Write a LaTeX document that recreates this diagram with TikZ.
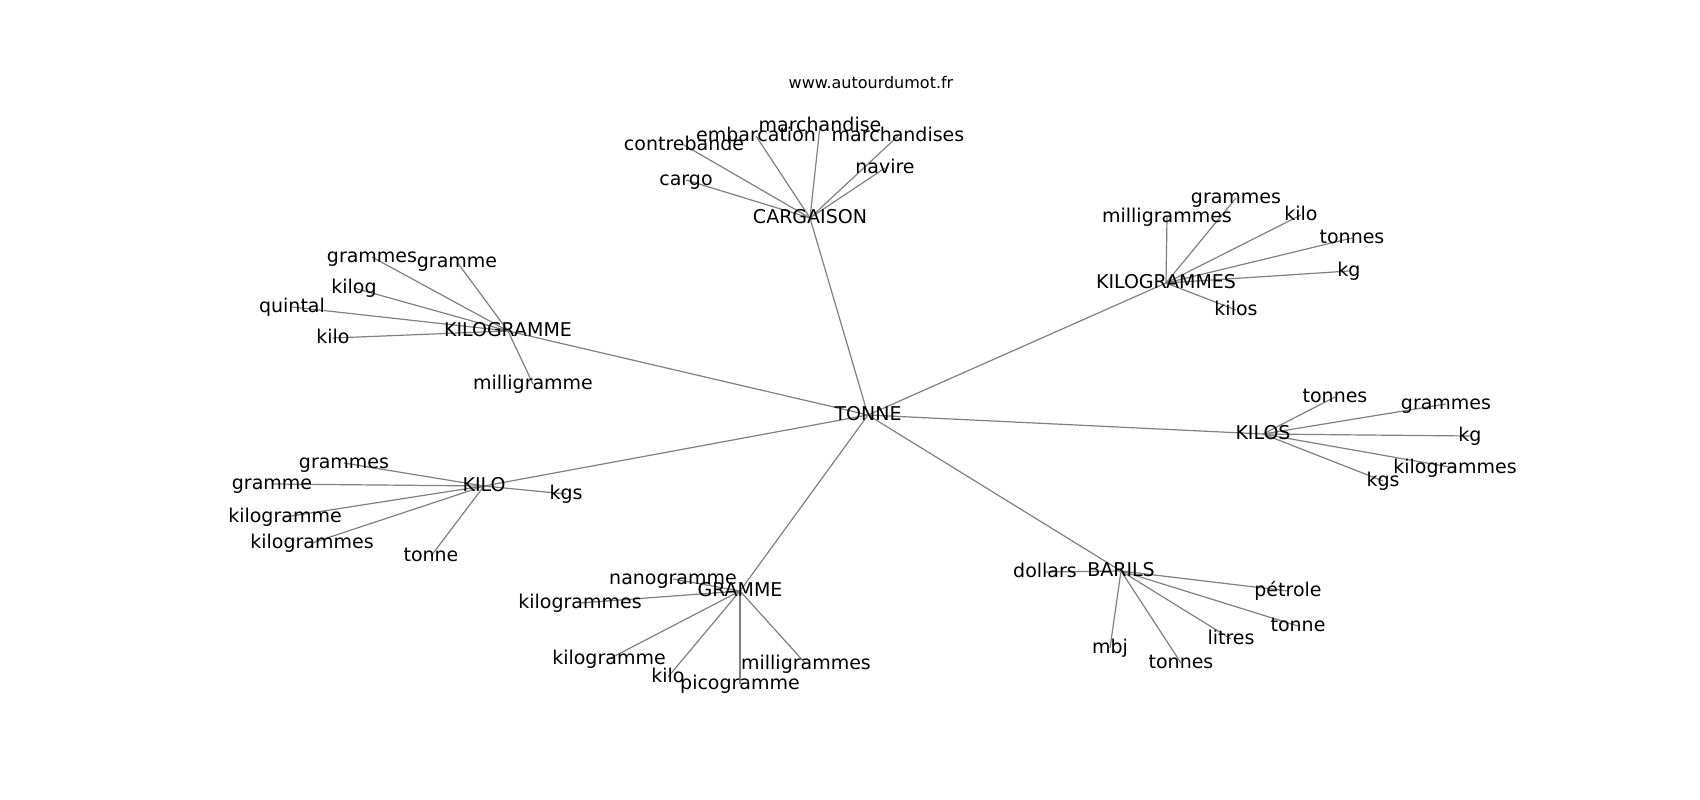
\documentclass[tikz,border=0pt]{standalone}
\usepackage{fontspec}
\setmainfont{DejaVu Sans}
\usetikzlibrary{backgrounds}
\definecolor{edgegray}{RGB}{128,128,128}
\tikzset{
  lbl/.style={font=\fontsize{19}{19}\selectfont, inner sep=0pt, text height=14.4pt, text depth=4pt, anchor=center},
  ttl/.style={font=\fontsize{16}{16}\selectfont, inner sep=0pt, anchor=center},
  edge/.style={draw=edgegray, line width=1.2pt}
}
\begin{document}
\begin{tikzpicture}[x=1pt,y=-1pt]
\useasboundingbox (0,0) rectangle (1700,800);
\node[ttl] (title) at (871,83) {www.autourdumot.fr};
% hubs
\node[lbl] (tonne) at (868,415) {TONNE};
\node[lbl] (cargaison) at (810,218) {CARGAISON};
\node[lbl] (kgs1) at (1166,283) {KILOGRAMMES};
\node[lbl] (kg1) at (508,331) {KILOGRAMME};
\node[lbl] (kilos) at (1263,434) {KILOS};
\node[lbl] (kilo) at (484,486) {KILO};
\node[lbl] (gramme) at (740,591) {GRAMME};
\node[lbl] (barils) at (1121,571) {BARILS};
% CARGAISON leaves
\node[lbl] (c1) at (686,180) {cargo};
\node[lbl] (c2) at (684,145) {contrebande};
\node[lbl] (c3) at (756,136) {embarcation};
\node[lbl] (c4) at (820,126) {marchandise};
\node[lbl] (c5) at (898,136) {marchandises};
\node[lbl] (c6) at (885,168) {navire};
% KILOGRAMMES leaves
\node[lbl] (a1) at (1236,198) {grammes};
\node[lbl] (a2) at (1167,217) {milligrammes};
\node[lbl] (a3) at (1301,215) {kilo};
\node[lbl] (a4) at (1352,238) {tonnes};
\node[lbl] (a5) at (1349,271) {kg};
\node[lbl] (a6) at (1236,310) {kilos};
% KILOGRAMME leaves
\node[lbl] (b1) at (372,257) {grammes};
\node[lbl] (b2) at (457,262) {gramme};
\node[lbl] (b3) at (354,288) {kilog};
\node[lbl] (b4) at (292,307) {quintal};
\node[lbl] (b5) at (333,338) {kilo};
\node[lbl] (b6) at (533,384) {milligramme};
% KILO leaves
\node[lbl] (d1) at (344,463) {grammes};
\node[lbl] (d2) at (272,484) {gramme};
\node[lbl] (d3) at (285,517) {kilogramme};
\node[lbl] (d4) at (312,543) {kilogrammes};
\node[lbl] (d5) at (431,556) {tonne};
\node[lbl] (d6) at (566,494) {kgs};
% GRAMME leaves
\node[lbl] (e1) at (673,579) {nanogramme};
\node[lbl] (e2) at (580,603) {kilogrammes};
\node[lbl] (e3) at (609,659) {kilogramme};
\node[lbl] (e4) at (668,677) {kilo};
\node[lbl] (e5) at (740,684) {picogramme};
\node[lbl] (e6) at (806,664) {milligrammes};
% BARILS leaves
\node[lbl] (f1) at (1045,572) {dollars};
\node[lbl] (f2) at (1288,591) {pétrole};
\node[lbl] (f3) at (1298,626) {tonne};
\node[lbl] (f4) at (1231,639) {litres};
\node[lbl] (f5) at (1181,663) {tonnes};
\node[lbl] (f6) at (1110,648) {mbj};
% KILOS leaves
\node[lbl] (g1) at (1335,397) {tonnes};
\node[lbl] (g2) at (1446,404) {grammes};
\node[lbl] (g3) at (1470,436) {kg};
\node[lbl] (g4) at (1455,468) {kilogrammes};
\node[lbl] (g5) at (1383,481) {kgs};
\begin{pgfonlayer}{background}
\fill[white] (0,0) rectangle (1700,800);
\foreach \h in {cargaison,kgs1,kg1,kilos,kilo,gramme,barils}
  \draw[edge] (tonne.center) -- (\h.center);
\foreach \l in {c1,c2,c3,c4,c5,c6}
  \draw[edge] (cargaison.center) -- (\l.center);
\foreach \l in {a1,a2,a3,a4,a5,a6}
  \draw[edge] (kgs1.center) -- (\l.center);
\foreach \l in {b1,b2,b3,b4,b5,b6}
  \draw[edge] (kg1.center) -- (\l.center);
\foreach \l in {d1,d2,d3,d4,d5,d6}
  \draw[edge] (kilo.center) -- (\l.center);
\foreach \l in {e1,e2,e3,e4,e5,e6}
  \draw[edge] (gramme.center) -- (\l.center);
\foreach \l in {f1,f2,f3,f4,f5,f6}
  \draw[edge] (barils.center) -- (\l.center);
\foreach \l in {g1,g2,g3,g4,g5}
  \draw[edge] (kilos.center) -- (\l.center);
\end{pgfonlayer}
\end{tikzpicture}
\end{document}
